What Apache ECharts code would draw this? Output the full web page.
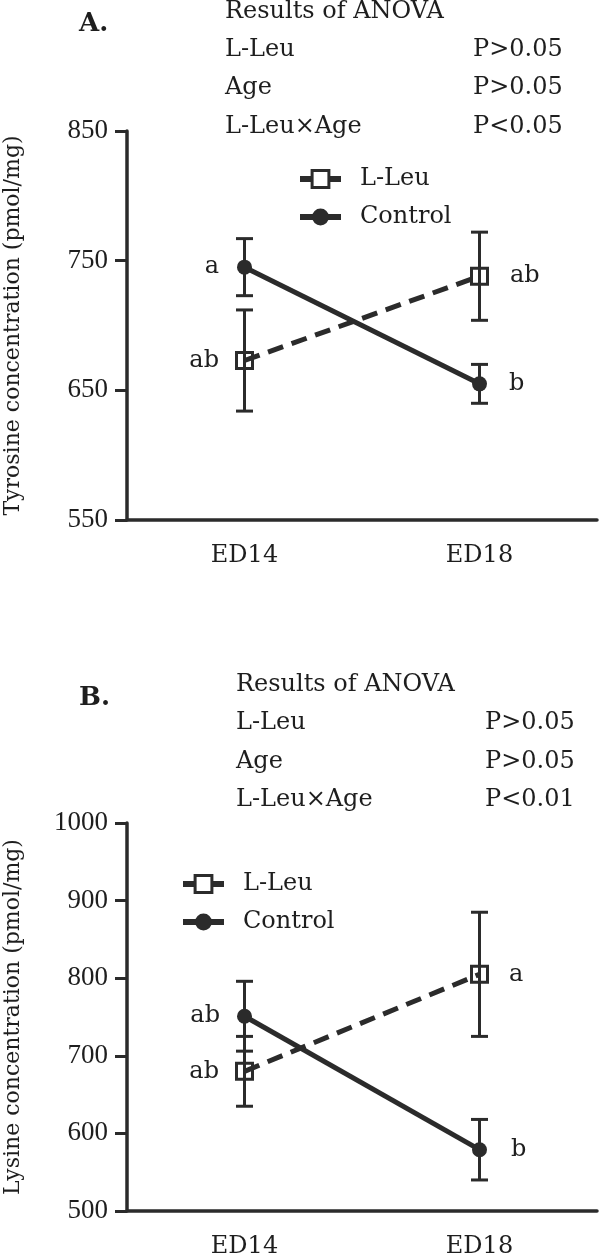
<!DOCTYPE html>
<html>
<head>
<meta charset="utf-8">
<script src="https://cdn.jsdelivr.net/npm/echarts@6/dist/echarts.min.js"></script>
<style>html,body{margin:0;padding:0;background:#fff;}#c{width:600px;height:1256px;}</style>
</head>
<body>
<div id="c"></div>
<script>
// ---- data ----
const categories = ['ED14', 'ED18'];
const tyrLLeu = [673, 738];
const tyrLLeuErr = [39, 34];
const tyrControl = [745, 655];
const tyrControlErr = [22, 15];
const tyrLLeuLetters = ['ab', 'ab'];
const tyrControlLetters = ['a', 'b'];
const tyrAxis = [550, 850, 100];

const lysLLeu = [680, 805];
const lysLLeuErr = [45, 80];
const lysControl = [751, 579];
const lysControlErr = [45, 39];
const lysLLeuLetters = ['ab', 'a'];
const lysControlLetters = ['ab', 'b'];
const lysAxis = [500, 1000, 100];

const anovaA = [['L-Leu', 'P>0.05'], ['Age', 'P>0.05'], ['L-Leu×Age', 'P<0.05']];
const anovaB = [['L-Leu', 'P>0.05'], ['Age', 'P>0.05'], ['L-Leu×Age', 'P<0.01']];

// ---- styles ----
const INK = '#2b2b2b';
const TXT = '#1e1e1e';
const SERIF = '"DejaVu Serif", serif';
const NUMF = '"Liberation Serif", serif';

function renderErr(params, api) {
  const x = api.value(0), m = api.value(1), e = api.value(2);
  const top = api.coord([x, m + e]);
  const bot = api.coord([x, m - e]);
  const w = 8.5;
  const st = { stroke: INK, lineWidth: 3 };
  return {
    type: 'group',
    children: [
      { type: 'line', shape: { x1: top[0], y1: top[1], x2: bot[0], y2: bot[1] }, style: st },
      { type: 'line', shape: { x1: top[0] - w, y1: top[1], x2: top[0] + w, y2: top[1] }, style: st },
      { type: 'line', shape: { x1: bot[0] - w, y1: bot[1], x2: bot[0] + w, y2: bot[1] }, style: st }
    ]
  };
}

function errData(means, errs) {
  return means.map((m, i) => [i, m, errs[i]]);
}

function withLabels(vals, letters, dists) {
  return vals.map((v, i) => ({
    value: v,
    label: {
      show: true,
      formatter: letters[i],
      position: i === 0 ? 'left' : 'right',
      distance: dists[i],
      fontFamily: SERIF,
      fontSize: 24,
      color: TXT
    }
  }));
}

function xAxisCfg(gi) {
  return {
    gridIndex: gi,
    type: 'category',
    data: categories,
    boundaryGap: true,
    axisLine: { lineStyle: { color: INK, width: 3.5 } },
    axisTick: { alignWithLabel: true, length: 12, lineStyle: { color: INK, width: 3 } },
    axisLabel: { fontFamily: SERIF, fontSize: 24, color: TXT, margin: 24 }
  };
}

function yAxisCfg(gi, ax, name) {
  return {
    gridIndex: gi,
    type: 'value',
    min: ax[0], max: ax[1], interval: ax[2],
    name: name,
    nameLocation: 'middle',
    nameGap: 103,
    nameTextStyle: { fontFamily: SERIF, fontSize: 22, color: TXT },
    splitLine: { show: false },
    axisLine: { show: true, lineStyle: { color: INK, width: 3.5 } },
    axisTick: { show: true, length: 12, lineStyle: { color: INK, width: 3 } },
    axisLabel: { fontFamily: NUMF, fontSize: 27, color: TXT, margin: 19, formatter: v => String(v) }
  };
}

function lineSeries(name, gi, data, dashed) {
  return {
    name: name,
    type: 'line',
    xAxisIndex: gi, yAxisIndex: gi,
    data: data,
    z: 3,
    symbol: dashed ? 'rect' : 'circle',
    symbolSize: dashed ? 16 : 15,
    lineStyle: { color: INK, width: 5, type: dashed ? [16, 9] : 'solid' },
    itemStyle: dashed
      ? { color: 'rgba(255,255,255,0)', borderColor: INK, borderWidth: 3 }
      : { color: INK, borderColor: INK, borderWidth: 0 },
    emphasis: { disabled: true },
    animation: false
  };
}

function errSeries(gi, means, errs) {
  return {
    type: 'custom',
    xAxisIndex: gi, yAxisIndex: gi,
    renderItem: renderErr,
    data: errData(means, errs),
    encode: { x: 0, y: 1 },
    z: 2,
    silent: true,
    animation: false
  };
}

function legendCfg(left, top) {
  return {
    left: left, top: top,
    orient: 'vertical',
    itemWidth: 41, itemHeight: 21, itemGap: 14,
    textStyle: { fontFamily: SERIF, fontSize: 24, color: TXT, padding: [0, 0, 0, 14] },
    lineStyle: { width: 6 },
    data: [
      { name: 'L-Leu', itemStyle: { color: '#fff', borderColor: INK, borderWidth: 3 } },
      { name: 'Control' }
    ],
    selectedMode: false
  };
}

function textEl(x, y, t, opts) {
  return {
    type: 'text', x: x, y: y,
    style: Object.assign({ text: t, fontFamily: SERIF, fontSize: 24, fill: TXT, verticalAlign: 'middle', align: 'left' }, opts || {})
  };
}

const graphics = [];
graphics.push(textEl(79, 24, 'A.', { fontWeight: 'bold', fontSize: 26 }));
graphics.push(textEl(225, 12, 'Results of ANOVA'));
const rowA = [50, 88, 127];
anovaA.forEach((r, i) => { graphics.push(textEl(225, rowA[i], r[0])); graphics.push(textEl(473, rowA[i], r[1])); });
graphics.push(textEl(79, 698, 'B.', { fontWeight: 'bold', fontSize: 26 }));
graphics.push(textEl(236, 685, 'Results of ANOVA'));
const rowB = [723, 762, 800];
anovaB.forEach((r, i) => { graphics.push(textEl(236, rowB[i], r[0])); graphics.push(textEl(485, rowB[i], r[1])); });

const chart = echarts.init(document.getElementById('c'), null, { renderer: 'canvas' });
chart.setOption({
  backgroundColor: '#fff',
  animation: false,
  grid: [
    { left: 127, right: 3, top: 131, bottom: 736, containLabel: false, outerBoundsMode: 'none' },
    { left: 127, right: 3, top: 823, bottom: 45, containLabel: false, outerBoundsMode: 'none' }
  ],
  xAxis: [xAxisCfg(0), xAxisCfg(1)],
  yAxis: [
    yAxisCfg(0, tyrAxis, 'Tyrosine concentration (pmol/mg)'),
    yAxisCfg(1, lysAxis, 'Lysine concentration (pmol/mg)')
  ],
  legend: [legendCfg(292, 162), legendCfg(175, 867)],
  series: [
    errSeries(0, tyrLLeu, tyrLLeuErr),
    errSeries(0, tyrControl, tyrControlErr),
    lineSeries('L-Leu', 0, withLabels(tyrLLeu, tyrLLeuLetters, [16, 21]), true),
    lineSeries('Control', 0, withLabels(tyrControl, tyrControlLetters, [18, 22]), false),
    errSeries(1, lysLLeu, lysLLeuErr),
    errSeries(1, lysControl, lysControlErr),
    lineSeries('L-Leu', 1, withLabels(lysLLeu, lysLLeuLetters, [16, 20]), true),
    lineSeries('Control', 1, withLabels(lysControl, lysControlLetters, [17, 24]), false)
  ],
  graphic: graphics
});
</script>
</body>
</html>
